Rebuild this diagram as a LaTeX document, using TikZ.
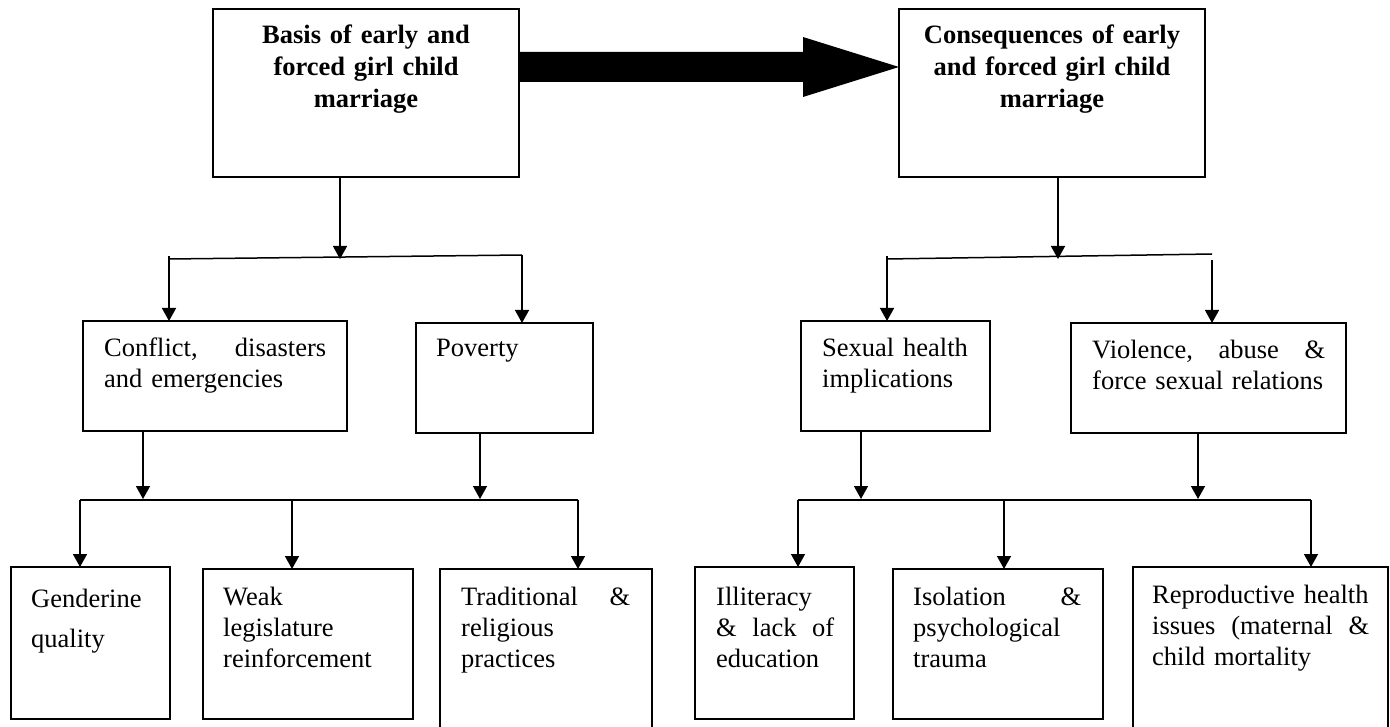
\documentclass[tikz,border=0pt]{standalone}
\usepackage{fontspec}
\setmainfont{Liberation Serif}
\usetikzlibrary{arrows.meta}
\tikzset{
  box/.style={draw, line width=2pt, rectangle, inner sep=0pt, outer sep=0pt},
  conn/.style={line width=1.5pt},
  arr/.style={line width=1.5pt, -{Triangle[length=13pt,width=14pt]}},
  txt/.style={anchor=base west, inner sep=0pt, align=left, font=\fontsize{26.5}{31}\selectfont},
  btxt/.style={anchor=base, inner sep=0pt, align=center, text width=300pt, font=\fontsize{26.5}{32}\selectfont\bfseries}
}
\begin{document}
\begin{tikzpicture}[x=1pt,y=-1pt]
\clip (0,0) rectangle (1390,727);
\fill[white] (0,0) rectangle (1390,727);
% top boxes
\node[box, minimum width=306pt, minimum height=168pt] (A) at (366,93) {};
\node[box, minimum width=306pt, minimum height=168pt] (B) at (1052,93) {};
\node[btxt] (At) at (366,44) {Basis of early and\\forced girl child\\marriage};
\node[btxt] (Bt) at (1052,44) {Consequences of early\\and forced girl child\\marriage};
% big arrow
\fill (A.east |- 0,52) -- (803,52) -- (803,37) -- (B.west |- 0,67) -- (803,97) -- (803,82) -- (A.east |- 0,82) -- cycle;
% middle boxes
\node[box, minimum width=264pt, minimum height=110pt] (C) at (215,376) {};
\node[box, minimum width=177pt, minimum height=110pt] (D) at (504.5,378) {};
\node[box, minimum width=189pt, minimum height=110pt] (E) at (895.5,376) {};
\node[box, minimum width=275pt, minimum height=110pt] (F) at (1208.5,378) {};
\node[txt, text width=222pt] (Ct) at (104,357) {Conflict,\hfill disasters\\and emergencies};
\node[txt, text width=140pt] (Dt) at (436,357) {Poverty};
\node[txt, text width=160pt] (Et) at (822,357) {Sexual health\\implications};
\node[txt, text width=233pt] (Ft) at (1092,359) {Violence,\hfill abuse\hfill \&\\force sexual relations};
% bottom boxes
\node[box, minimum width=159pt, minimum height=152pt] (G) at (90.5,643) {};
\node[box, minimum width=210pt, minimum height=150pt] (H) at (308,644) {};
\node[box, minimum width=212pt, minimum height=171pt] (I) at (546,654.5) {};
\node[box, minimum width=159pt, minimum height=152pt] (J) at (774.5,643) {};
\node[box, minimum width=210pt, minimum height=150pt] (K) at (998,644) {};
\node[box, minimum width=255pt, minimum height=173pt] (L) at (1260.5,653.5) {};
\node[txt, text width=130pt] (Gt) at (31,607) {Genderine\\[9pt]quality};
\node[txt, text width=175pt] (Ht) at (223,605) {Weak\\legislature\\reinforcement};
\node[txt, text width=169pt] (It) at (461,605) {Traditional\hfill\&\\religious\\practices};
\node[txt, text width=118pt] (Jt) at (716,605) {Illiteracy\\\&\hfill lack\hfill of\\education};
\node[txt, text width=168pt] (Kt) at (913,605) {Isolation\hfill\&\\psychological\\trauma};
\node[txt, text width=217pt] (Lt) at (1152,603) {\hbox{Reproductive health}\\issues\hfill (maternal\hfill \&\\child mortality};
% left upper connectors
\coordinate (jL) at (340,259);
\coordinate (bL1) at (169,259);
\coordinate (bL2) at (522,255);
\draw[arr] (A.south -| jL) -- (jL);
\draw[conn] (bL1) -- (bL2);
\draw[arr] (169,256) -- (bL1 |- C.north);
\draw[arr] (bL2) -- (bL2 |- D.north);
% right upper connectors
\coordinate (jR) at (1058,259);
\coordinate (bR1) at (887,259);
\coordinate (bR2) at (1212,254);
\coordinate (bR3) at (1212,260);
\draw[arr] (B.south -| jR) -- (jR);
\draw[conn] (bR1) -- (bR2);
\draw[arr] (887,256) -- (bR1 |- E.north);
\draw[arr] (bR3) -- (bR3 |- F.north);
% left lower connectors
\coordinate (cL1) at (143,499);
\coordinate (cL2) at (480,499);
\coordinate (dL1) at (80,500);
\coordinate (dL2) at (292,500);
\coordinate (dL3) at (578,500);
\draw[arr] (C.south -| cL1) -- (cL1);
\draw[arr] (D.south -| cL2) -- (cL2);
\draw[conn] (dL1) -- (dL3);
\draw[arr] (dL1) -- (dL1 |- G.north);
\draw[arr] (dL2) -- (dL2 |- H.north);
\draw[arr] (dL3) -- (dL3 |- I.north);
% right lower connectors
\coordinate (cR1) at (861,499);
\coordinate (cR2) at (1198,499);
\coordinate (dR1) at (798,500);
\coordinate (dR2) at (1004,500);
\coordinate (dR3) at (1311,500);
\draw[arr] (E.south -| cR1) -- (cR1);
\draw[arr] (F.south -| cR2) -- (cR2);
\draw[conn] (dR1) -- (dR3);
\draw[arr] (dR1) -- (dR1 |- J.north);
\draw[arr] (dR2) -- (dR2 |- K.north);
\draw[arr] (dR3) -- (dR3 |- L.north);
\end{tikzpicture}
\end{document}
